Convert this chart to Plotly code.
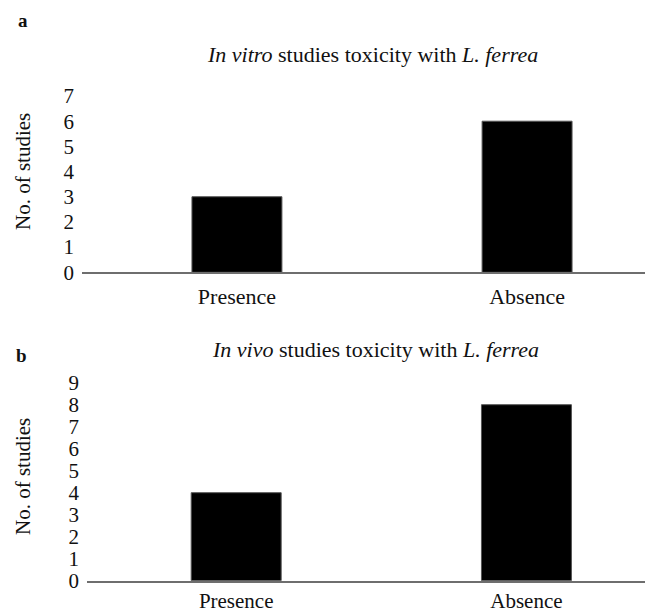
import plotly.graph_objects as go

categories = ["Presence", "Absence"]
in_vitro_values = [3, 6]
in_vivo_values = [4, 8]
y_ticks_a = [0, 1, 2, 3, 4, 5, 6, 7]
y_ticks_b = [0, 1, 2, 3, 4, 5, 6, 7, 8, 9]

W, H = 653, 615
OFF = 8  # page body margin offset
FONT = "Liberation Serif, Times New Roman, serif"

def px_x(p):
    return (p - OFF) / W

def px_y(p):
    return (H - (p - OFF)) / H

fig = go.Figure()
bar_style = dict(marker=dict(color="black", line=dict(color="#555555", width=1)),
                 width=0.31, showlegend=False, hoverinfo="skip")
fig.add_trace(go.Bar(x=categories, y=in_vitro_values, xaxis="x", yaxis="y", **bar_style))
fig.add_trace(go.Bar(x=categories, y=in_vivo_values, xaxis="x2", yaxis="y2", **bar_style))

xcommon = dict(showline=True, linecolor="#6e6e6e", linewidth=1.5, ticks="",
               showgrid=False, zeroline=False, automargin=False)
ycommon = dict(showline=False, ticks="", showgrid=False, zeroline=False, automargin=False,
               tickfont=dict(family=FONT, size=21, color="#111"), ticklabelstandoff=7)

# x range chosen so that category centres sit where the reference draws them
fig.update_layout(
    width=W, height=H,
    margin=dict(l=0, r=0, t=0, b=0, autoexpand=False),
    paper_bgcolor="white", plot_bgcolor="white",
    xaxis=dict(domain=[px_x(82), 1], range=[-0.534, 1.434 + OFF / 290], anchor="y",
               ticklabelstandoff=4, tickfont=dict(family=FONT, size=22, color="#111"),
               **xcommon),
    yaxis=dict(domain=[px_y(272.3), px_y(96)], range=[0, 7], tickvals=y_ticks_a,
               anchor="x", **ycommon),
    xaxis2=dict(domain=[px_x(87), 1], range=[-0.514, 1.436 + OFF / 290], anchor="y2",
                ticklabelstandoff=0, tickfont=dict(family=FONT, size=21, color="#111"),
                **xcommon),
    yaxis2=dict(domain=[px_y(580.7), px_y(382.7)], range=[0, 9], tickvals=y_ticks_b,
                anchor="x2", **ycommon),
    font=dict(family=FONT, color="#111"),
)

annots = [
    dict(text="<b>a</b>", x=px_x(23), y=px_y(20)),
    dict(text="<b>b</b>", x=px_x(21), y=px_y(355)),
    dict(text="<i>In vitro</i> studies toxicity with <i>L. ferrea</i>", x=px_x(372), y=px_y(55), size=22),
    dict(text="<i>In vivo</i> studies toxicity with <i>L. ferrea</i>", x=px_x(375), y=px_y(349), size=22),
    dict(text="No. of studies", x=px_x(23), y=px_y(172), size=21, angle=-90),
    dict(text="No. of studies", x=px_x(23), y=px_y(477), size=21, angle=-90),
]
for a in annots:
    fig.add_annotation(text=a["text"], x=a["x"], y=a["y"], xref="paper", yref="paper",
                       xanchor="center", yanchor="middle", showarrow=False,
                       textangle=a.get("angle", 0),
                       font=dict(family=FONT, size=a.get("size", 19), color="#111"))

fig.write_html("out.html")
